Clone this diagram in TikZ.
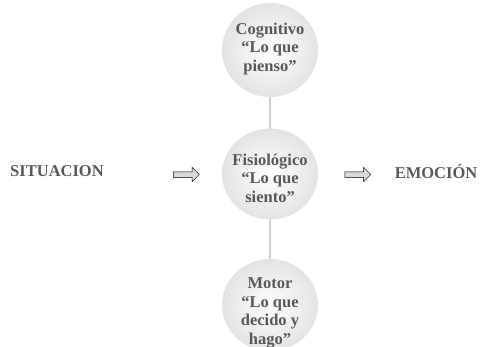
\documentclass[tikz,border=0pt]{standalone}
\usepackage{fontspec}
\setmainfont{Liberation Serif}
\usetikzlibrary{shapes.arrows}
\definecolor{txt}{HTML}{585858}
\definecolor{edge}{HTML}{D0D0D0}
\begin{document}
\begin{tikzpicture}[x=1pt,y=-1pt,
  bubble/.style={inner color=white,outer color=gray!22},
  btext/.style={text=txt,font=\bfseries\fontsize{16.5}{18.5}\selectfont,align=center},
  side/.style={text=txt,font=\bfseries\fontsize{16.5}{18}\selectfont},
  barrow/.style={single arrow,draw=black,line width=0.5pt,fill=gray!30,
    minimum height=26pt,single arrow head extend=4.5pt,
    single arrow tip angle=90,inner xsep=0pt,inner ysep=2.5pt},
  link/.style={draw=edge,line width=2.5pt}]
\useasboundingbox (0,0) rectangle (485,346);
\begin{scope}
\clip (0,0) rectangle (485,346);
\coordinate (ctop) at (270,50);
\coordinate (cmid) at (270,174);
\coordinate (cbot) at (270,305);
\path[link] (ctop) -- (cbot);
\shade[bubble] (ctop) ellipse (48 and 47);
\shade[bubble] (cmid) ellipse (48 and 45.5);
\shade[bubble] (cbot) ellipse (48 and 46);
\node[btext] (cog) at (270,49) {Cognitivo\\“Lo que\\pienso”};
\node[btext] (fis) at (270,178) {Fisiológico\\“Lo que\\siento”};
\node[btext] (mot) at (270,313) {Motor\\“Lo que\\decido y\\hago”};
\end{scope}
\node[side] (sit) at (57,171) {SITUACION};
\node[side] (emo) at (436,171) {EMOCIÓN};
\node[barrow] (a1) at (185,174.5) {};
\node[barrow] (a2) at (356.5,174.5) {};
\end{tikzpicture}
\end{document}
